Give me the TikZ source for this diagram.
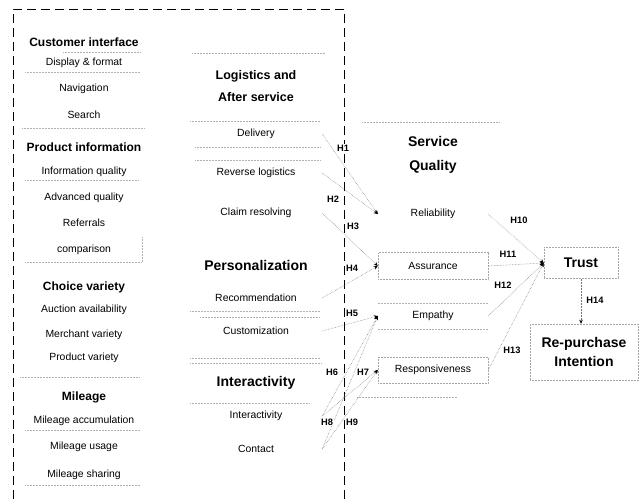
\documentclass[tikz,border=0pt]{standalone}
\usepackage{fontspec}
\setmainfont{Liberation Sans}
\usetikzlibrary{arrows.meta}

\tikzset{
	item/.style={font=\fontsize{10.4}{12}\selectfont, inner sep=1pt},
	mid/.style={item, minimum width=132pt},
	sq/.style={item, minimum width=110pt, minimum height=26pt},
	head/.style={font=\bfseries\fontsize{12}{14}\selectfont, inner sep=1pt},
	bighead/.style={font=\bfseries\fontsize{14}{17}\selectfont, inner sep=1pt},
	hyp/.style={font=\bfseries\fontsize{9.3}{10}\selectfont, fill=white, inner sep=0.6pt},
	box/.style={draw=gray!70, densely dotted, line width=0.5pt},
	sep/.style={gray!60, densely dotted, line width=0.5pt},
	frame/.style={black, line width=1pt, dash pattern=on 9pt off 5pt},
	link/.style={black!55, densely dotted, line width=0.5pt, -{Stealth[length=4pt, width=3.5pt, black]}}
}

\begin{document}
\begin{tikzpicture}[x=1pt, y=-1pt]
	\useasboundingbox (0,0) rectangle (641,499);
	\def\xl{84}
	\def\xm{256}
	\def\xs{433}

	\draw[frame] (13,499) -- (13,9) -- (344,9) -- (344,499);

	\node[head] (l1) at (\xl, 42) {Customer interface};
	\node[item] (l2) at (\xl, 63) {Display \& format};
	\node[item] (l3) at (\xl, 89) {Navigation};
	\node[item] (l4) at (\xl, 115) {Search};
	\node[head] (l5) at (\xl, 147) {Product information};
	\node[item] (l6) at (\xl, 172) {Information quality};
	\node[item] (l7) at (\xl, 198) {Advanced quality};
	\node[item] (l8) at (\xl, 223) {Referrals};
	\node[item] (l9) at (\xl, 250) {comparison};
	\node[head] (l10) at (\xl, 287) {Choice variety};
	\node[item] (l11) at (\xl, 310) {Auction availability};
	\node[item] (l12) at (\xl, 335) {Merchant variety};
	\node[item] (l13) at (\xl, 358) {Product variety};
	\node[head] (l14) at (\xl, 397) {Mileage};
	\node[item] (l15) at (\xl, 421) {Mileage accumulation};
	\node[item] (l16) at (\xl, 447) {Mileage usage};
	\node[item] (l17) at (\xl, 475) {Mileage sharing};

	\draw[sep] (63,52) -- (140,52) (25,72) -- (140,72) (22,128) -- (145,128)
		(25,180) -- (138,180) (25,262) -- (142,262) (142,237) -- (142,262)
		(20,377) -- (140,377) (25,430) -- (140,430) (25,485) -- (140,485);

	\node[head, align=center, font=\bfseries\fontsize{12.5}{22}\selectfont] (m1) at (\xm, 86) {Logistics and\\After service};
	\node[mid] (m3) at (\xm, 134) {Delivery};
	\node[mid] (m4) at (\xm, 173) {Reverse logistics};
	\node[mid] (m5) at (\xm, 213) {Claim resolving};
	\node[bighead] (m6) at (\xm, 265) {Personalization};
	\node[mid] (m7) at (\xm, 298) {Recommendation};
	\node[mid] (m8) at (\xm, 331) {Customization};
	\node[bighead] (m9) at (\xm, 383) {Interactivity};
	\node[mid] (m10) at (\xm, 416) {Interactivity};
	\node[mid] (m11) at (\xm, 449) {Contact};

	\draw[sep] (192,53) -- (325,53) (190,121) -- (320,121) (195,147) -- (320,147)
		(195,160) -- (320,160) (190,311) -- (320,311) (200,317) -- (320,317)
		(190,358) -- (320,358) (190,363) -- (322,363) (190,403) -- (310,403);

	\node[bighead, align=center, font=\bfseries\fontsize{14}{24}\selectfont] (s0) at (\xs, 155) {Service\\Quality};
	\node[sq] (s1) at (\xs, 214) {Reliability};
	\node[sq, box, minimum height=27pt] (s2) at (\xs, 266) {Assurance};
	\node[sq] (s3) at (\xs, 316) {Empathy};
	\node[sq, box] (s4) at (\xs, 370) {Responsiveness};
	\node[bighead, box, minimum width=74pt, minimum height=31pt] (t) at (581, 263) {Trust};
	\node[bighead, box, align=center, minimum width=108pt, minimum height=56pt, font=\bfseries\fontsize{14}{19}\selectfont] (r) at (584, 352) {Re-purchase\\Intention};

	\draw[sep] (362,122) -- (500,122) (s3.north west) -- (s3.north east)
		(s3.south west) -- (s3.south east) (357,397) -- (457,397);

	\draw[link] (m3.east) -- (s1.west);
	\draw[link] (m4.east) -- (s1.west);
	\draw[link] (m5.east) -- (s2.west);
	\draw[link] (m7.east) -- (s2.west);
	\draw[link] (m8.east) -- (s3.west);
	\draw[link] (m10.east) -- (s3.west);
	\draw[link] (m10.east) -- (s4.west);
	\draw[link] (m11.east) -- (s3.west);
	\draw[link] (m11.east) -- (s4.west);
	\draw[link] (s1.east) -- (t.west);
	\draw[link] (s2.east) -- (t.west);
	\draw[link] (s3.east) -- (t.west);
	\draw[link] (s4.east) -- (t.west);
	\draw[link] (t.south) -- (t.south |- r.north);

	\node[hyp] (h1) at (343, 148) {H1};
	\node[hyp] (h2) at (333, 199) {H2};
	\node[hyp] (h3) at (353, 226) {H3};
	\node[hyp] (h4) at (352, 268) {H4};
	\node[hyp] (h5) at (352, 313) {H5};
	\node[hyp] (h6) at (332, 372) {H6};
	\node[hyp] (h7) at (363, 372) {H7};
	\node[hyp] (h8) at (327, 422) {H8};
	\node[hyp] (h9) at (352, 422) {H9};
	\node[hyp] (h10) at (519, 220) {H10};
	\node[hyp] (h11) at (508, 254) {H11};
	\node[hyp] (h12) at (503, 285) {H12};
	\node[hyp] (h13) at (512, 350) {H13};
	\node[hyp] (h14) at (595, 300) {H14};
\end{tikzpicture}
\end{document}
